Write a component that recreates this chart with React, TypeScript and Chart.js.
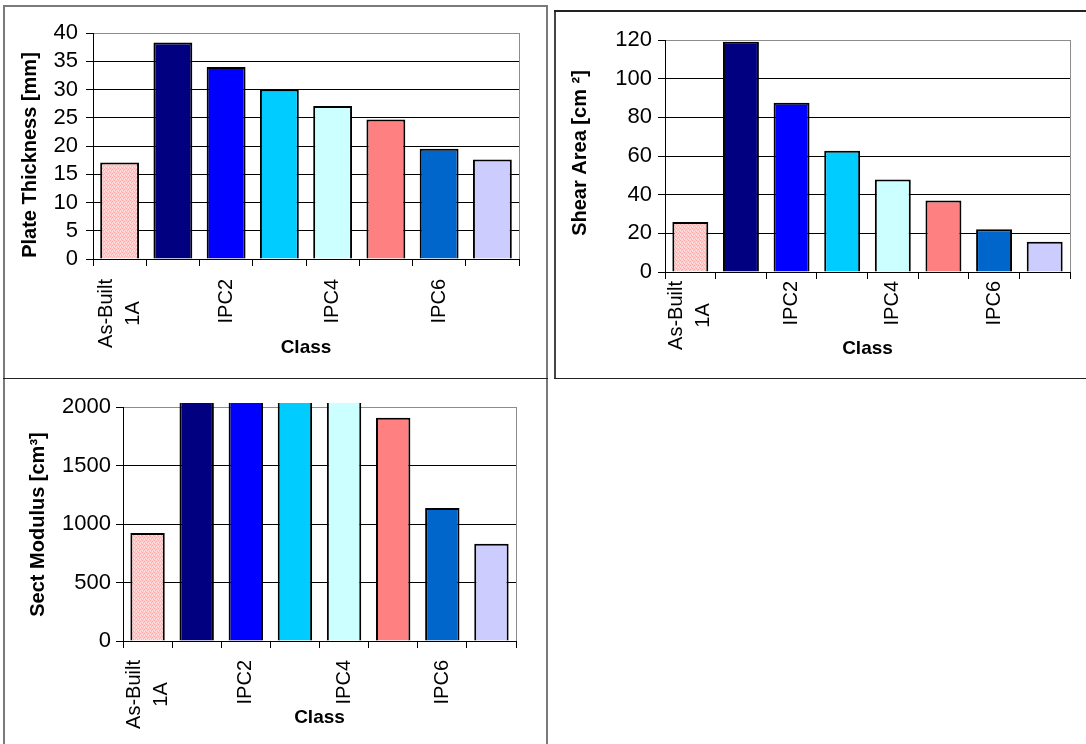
import React, { useEffect, useRef } from "react";
import { Chart, registerables } from "chart.js";

Chart.register(...registerables);

// ---- data ----
const classes = ["As-Built\n1A", "IPC1", "IPC2", "IPC3", "IPC4", "IPC5", "IPC6", "IPC7"];
const classTickLabels = ["As-Built\n1A", "", "IPC2", "", "IPC4", "", "IPC6", ""];
const plateThickness = [17.1, 38.3, 34.0, 30.0, 27.1, 24.7, 19.5, 17.6];
const shearArea = [25.9, 119.1, 87.5, 62.7, 47.8, 37.0, 22.1, 15.7];
const sectModulus = [923, 4560, 3600, 2800, 2290, 1909, 1137, 832];
const classColors = ["#FFBFBF", "#000080", "#0000FF", "#00CCFF", "#CCFFFF", "#FF8080", "#0066CC", "#CCCCFF"];

const FONT = '"Liberation Sans", Arial, Helvetica, sans-serif';

type Rect = { left: number; top: number; width: number; height: number };
type PlotBox = { left: number; top: number; right: number; bottom: number };

type PanelSpec = {
  id: string;
  canvas: Rect;
  plot: PlotBox;
  values: number[];
  yMax: number;
  yStep: number;
  yTitle: string;
  yTitleX: number;
  yTitleY: number;
  xTitleY: number;
  tickSize: number;
  tickPad: number;
  labelTop: number;
  barPct: number;
};

const panels: PanelSpec[] = [
  {
    id: "thickness",
    canvas: { left: 6, top: 8, width: 539, height: 369 },
    plot: { left: 93, top: 33, right: 519, bottom: 259 },
    values: plateThickness,
    yMax: 40,
    yStep: 5,
    yTitle: "Plate Thickness [mm]",
    yTitleX: 30,
    yTitleY: 155,
    xTitleY: 348,
    tickSize: 22,
    tickPad: 8,
    labelTop: 20,
    barPct: 0.73,
  },
  {
    id: "shear",
    canvas: { left: 556, top: 12, width: 530, height: 365 },
    plot: { left: 665, top: 40, right: 1070, bottom: 272 },
    values: shearArea,
    yMax: 120,
    yStep: 20,
    yTitle: "Shear Area [cm \u00B2]",
    yTitleX: 580,
    yTitleY: 153,
    xTitleY: 349,
    tickSize: 22,
    tickPad: 6,
    labelTop: 9,
    barPct: 0.71,
  },
  {
    id: "modulus",
    canvas: { left: 6, top: 380, width: 539, height: 364 },
    plot: { left: 123, top: 407, right: 516, bottom: 641 },
    values: sectModulus,
    yMax: 2000,
    yStep: 500,
    yTitle: "Sect Modulus [cm\u00B3]",
    yTitleX: 38.5,
    yTitleY: 524.5,
    xTitleY: 718,
    tickSize: 22,
    tickPad: 5,
    labelTop: 19,
    barPct: 0.7,
  },
];

// fine woven fill used for the as-built bar
function wovenFill(base: string): CanvasPattern | string {
  const c = document.createElement("canvas");
  c.width = 4;
  c.height = 4;
  const g = c.getContext("2d");
  if (!g) return base;
  g.fillStyle = "#FFCDCD";
  g.fillRect(0, 0, 4, 4);
  g.fillStyle = "#FFA8A8";
  g.fillRect(0, 0, 1, 1);
  g.fillRect(2, 1, 1, 1);
  g.fillRect(1, 2, 1, 1);
  g.fillRect(3, 3, 1, 1);
  g.fillStyle = "#FFEAEA";
  g.fillRect(2, 3, 1, 1);
  g.fillRect(0, 2, 1, 1);
  return g.createPattern(c, "repeat") || base;
}

function BarPanel({ spec }: { spec: PanelSpec }) {
  const ref = useRef<HTMLCanvasElement | null>(null);

  useEffect(() => {
    const cv = ref.current;
    if (!cv) return;
    const c = spec.canvas;
    const p = spec.plot;

    const colors: (string | CanvasPattern)[] = classColors.map((col, i) =>
      i === 0 ? wovenFill(col) : col
    );

    const decor = {
      id: "panelDecor_" + spec.id,
      beforeDatasetsDraw(chart: any) {
        const { ctx, chartArea: a } = chart;
        ctx.save();
        ctx.strokeStyle = "#8c8c8c";
        ctx.lineWidth = 1;
        ctx.beginPath();
        const x = Math.round(a.right) + 0.5;
        ctx.moveTo(x, a.top);
        ctx.lineTo(x, a.bottom);
        ctx.stroke();
        ctx.restore();
      },
      afterDraw(chart: any) {
        const { ctx, chartArea: a } = chart;
        const xs = chart.scales.x;
        ctx.save();
        ctx.fillStyle = "#000";

        // category labels, rotated, each line centred on the block
        ctx.font = `20px ${FONT}`;
        const lh = 27;
        classTickLabels.forEach((lab, i) => {
          if (!lab) return;
          const lines = lab.split("\n");
          const w = Math.max(...lines.map((l) => ctx.measureText(l).width));
          const px = xs.getPixelForTick(i);
          ctx.save();
          ctx.translate(px, a.bottom + spec.labelTop);
          ctx.rotate(-Math.PI / 2);
          ctx.textAlign = "center";
          ctx.textBaseline = "middle";
          lines.forEach((l, j) => {
            ctx.fillText(l, -w / 2, (j - (lines.length - 1) / 2) * lh);
          });
          ctx.restore();
        });

        // axis titles
        ctx.font = `bold 19px ${FONT}`;
        ctx.textAlign = "center";
        ctx.textBaseline = "middle";
        ctx.fillText("Class", (a.left + a.right) / 2, spec.xTitleY - c.top);

        ctx.save();
        ctx.font = `bold 20px ${FONT}`;
        ctx.translate(spec.yTitleX - c.left, spec.yTitleY - c.top);
        ctx.rotate(-Math.PI / 2);
        ctx.textAlign = "center";
        ctx.textBaseline = "middle";
        ctx.fillText(spec.yTitle, 0, 0);
        ctx.restore();

        ctx.restore();
      },
    };

    const chart = new Chart(cv, {
      type: "bar",
      data: {
        labels: classes,
        datasets: [
          {
            data: spec.values,
            backgroundColor: colors as any,
            borderColor: "#000",
            borderWidth: 2,
            barPercentage: spec.barPct,
            categoryPercentage: 1,
            clip: { left: 0, right: 0, top: 4, bottom: 0 } as any,
          },
        ],
      },
      options: {
        responsive: false,
        animation: false,
        devicePixelRatio: 1,
        layout: {
          padding: {
            top: p.top - c.top,
            right: c.left + c.width - p.right,
            bottom: 0,
            left: 0,
          },
        },
        plugins: {
          legend: { display: false },
          tooltip: { enabled: false },
        },
        scales: {
          x: {
            type: "category",
            offset: true,
            grid: {
              display: true,
              drawOnChartArea: false,
              drawTicks: true,
              tickLength: 7,
              color: "#000",
              offset: true,
            },
            border: { display: true, color: "#000", width: 1 },
            ticks: { display: false },
            afterFit(s: any) {
              s.height = c.top + c.height - p.bottom;
            },
          },
          y: {
            min: 0,
            max: spec.yMax,
            ticks: {
              stepSize: spec.yStep,
              autoSkip: false,
              color: "#000",
              font: { size: spec.tickSize, family: FONT },
              padding: spec.tickPad,
              callback: (v: any) => String(v),
            },
            grid: {
              color: (ctx: any) =>
                ctx.tick && ctx.tick.value === spec.yMax ? "#8c8c8c" : "#000",
              tickColor: "#000",
              tickLength: 7,
              lineWidth: 1,
            },
            border: { display: true, color: "#000", width: 1 },
            afterFit(s: any) {
              s.width = p.left - c.left;
            },
          },
        },
      } as any,
      plugins: [decor],
    });

    return () => chart.destroy();
  }, [spec]);

  const c = spec.canvas;
  return (
    <canvas
      ref={ref}
      width={c.width}
      height={c.height}
      style={{ position: "absolute", left: c.left, top: c.top, width: c.width, height: c.height }}
    />
  );
}

function Line({ x, y, w, h, color }: { x: number; y: number; w: number; h: number; color: string }) {
  return <div style={{ position: "absolute", left: x, top: y, width: w, height: h, background: color }} />;
}

export default function App() {
  return (
    <div
      style={{
        position: "absolute",
        left: 0,
        top: 0,
        width: 1086,
        height: 744,
        background: "#fff",
        overflow: "hidden",
      }}
    >
      {/* frames around the three panels */}
      <Line x={3} y={5} w={2} h={739} color="#7a7a7a" />
      <Line x={546} y={5} w={2} h={739} color="#7a7a7a" />
      <Line x={3} y={5} w={545} h={2} color="#7a7a7a" />
      <Line x={3} y={377.5} w={545} h={1.5} color="#222" />
      <Line x={554} y={10} w={1.5} h={369} color="#444" />
      <Line x={554} y={9.5} w={532} h={2} color="#222" />
      <Line x={554} y={377.5} w={532} h={1.5} color="#222" />
      {panels.map((s) => (
        <BarPanel key={s.id} spec={s} />
      ))}
    </div>
  );
}
